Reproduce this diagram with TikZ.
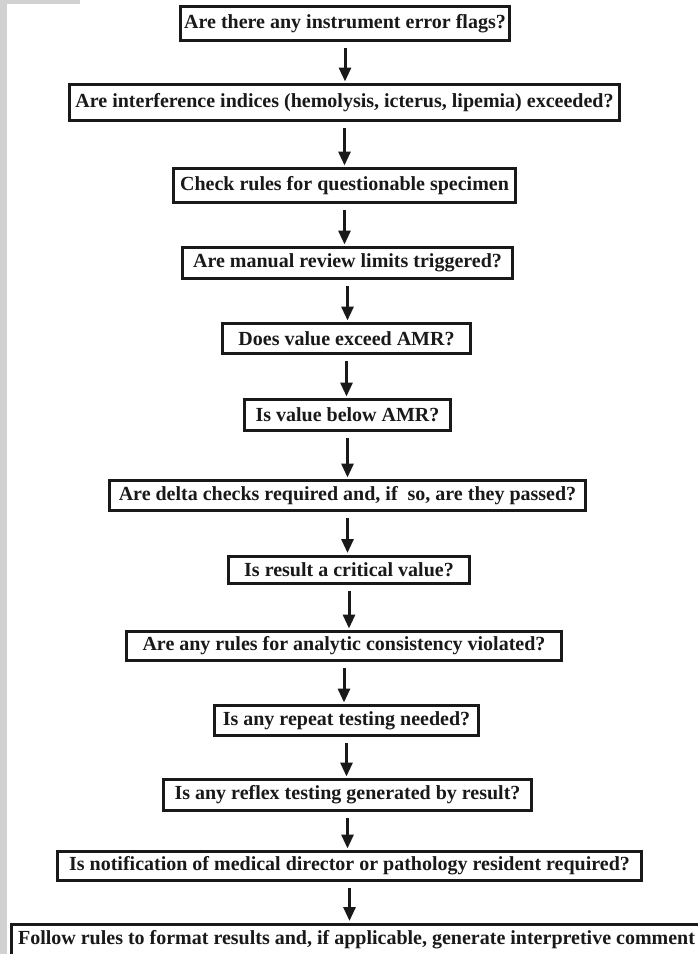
\documentclass[tikz,border=0pt]{standalone}
\usepackage{fontspec}
\setmainfont{Liberation Serif}
\usetikzlibrary{arrows.meta}
\begin{document}
\begin{tikzpicture}[x=1pt,y=-1pt,
  qbox/.style={draw=black!90, line width=3pt, fill=white, inner sep=0pt,
    font=\fontsize{20}{22}\selectfont\bfseries, text=black!90},
  arr/.style={draw=black!90, line width=3pt, shorten >=1.5pt,
    -{Triangle[length=14pt,width=12pt]}}]
\useasboundingbox (0,0) rectangle (698,954);
\fill[white] (0,0) rectangle (698,954);
\fill[black!18] (0,0) rectangle (7,954);
\fill[black!18] (0,0) rectangle (80,4);
\node[qbox, minimum width=329pt, minimum height=34pt] (n1) at (345,23.5) {Are there any instrument error flags?};
\node[qbox, minimum width=550pt, minimum height=36pt] (n2) at (344.5,102.5) {Are interference indices (hemolysis, icterus, lipemia) exceeded?};
\node[qbox, minimum width=342pt, minimum height=34pt] (n3) at (344.5,185.5) {Check rules for questionable specimen};
\node[qbox, minimum width=330pt, minimum height=31pt] (n4) at (347.5,263) {Are manual review limits triggered?};
\node[qbox, minimum width=248pt, minimum height=30pt] (n5) at (346.5,338.5) {Does value exceed AMR?};
\node[qbox, minimum width=206pt, minimum height=31pt] (n6) at (347.5,415) {Is value below AMR?};
\node[qbox, minimum width=476pt, minimum height=30pt] (n7) at (347.5,495.5) {Are delta checks required and, if~~so, are they passed?};
\node[qbox, minimum width=241pt, minimum height=27pt] (n8) at (349,569.5) {Is result a critical value?};
\node[qbox, minimum width=435pt, minimum height=29pt] (n9) at (344,646) {Are any rules for analytic consistency violated?};
\node[qbox, minimum width=264pt, minimum height=30pt] (n10) at (346.5,720.5) {Is any repeat testing needed?};
\node[qbox, minimum width=368pt, minimum height=31pt] (n11) at (347.5,795) {Is any reflex testing generated by result?};
\node[qbox, minimum width=584pt, minimum height=29pt] (n12) at (349.5,866) {Is notification of medical director or pathology resident required?};
\node[qbox, minimum width=690pt, minimum height=31pt] (n13) at (356.5,939.5) {Follow rules to format results and, if applicable, generate interpretive comment};
\foreach \a/\b in {n1/n2,n2/n3,n3/n4,n4/n5,n5/n6,n6/n7,n7/n8,n8/n9,n9/n10,n10/n11,n11/n12,n12/n13}
  \draw[arr] ([yshift=-6pt]\a.south) -- (\a.south |- \b.north);
\end{tikzpicture}
\end{document}
